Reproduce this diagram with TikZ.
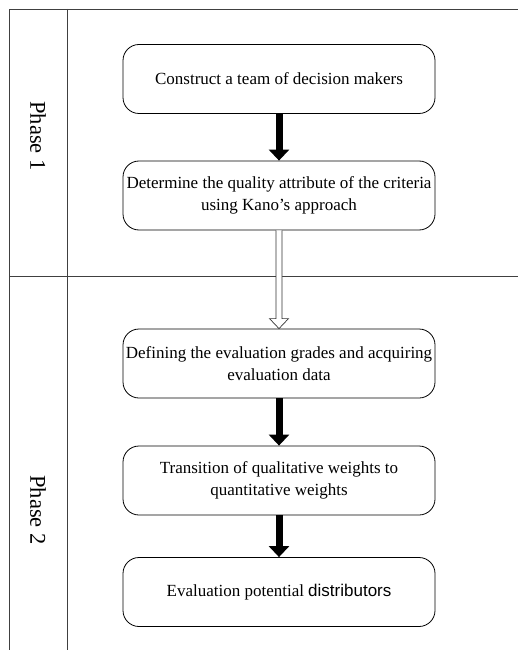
\documentclass[tikz,border=0pt]{standalone}
\usepackage{fontspec}
\setmainfont{Liberation Serif}
\newfontfamily\arialfont{Liberation Sans}
\usetikzlibrary{arrows.meta}
\begin{document}
\begin{tikzpicture}[x=1pt,y=-1pt,
  stepbox/.style={draw, rounded corners=16pt, minimum width=312pt, minimum height=69pt, align=center, font=\fontsize{17}{22}\selectfont, inner sep=1pt, line width=0.8pt},
  frame/.style={draw=black!75, line width=0.9pt},
  solidarrow/.style={line width=7pt, -{Triangle[width=20pt,length=11pt]}, shorten >=0pt},
  phase/.style={rotate=-90, font=\fontsize{22.5}{26}\selectfont}
]
\useasboundingbox (0,0) rectangle (518,652);
% frame
\draw[frame] (518,9) -- (9,9) -- (9,650);
\draw[frame] (67,9) -- (67,650);
\draw[frame] (9,276) -- (518,276);
\node[phase] (p1) at (38,136) {Phase 1};
\node[phase] (p2) at (38,510) {Phase 2};
% boxes
\node[stepbox] (b1) at (279,79) {Construct a team of decision makers};
\node[stepbox] (b2) at (279,195.5) {Determine the quality attribute of the criteria\\using Kano's approach};
\node[stepbox] (b3) at (279,363.5) {Defining the evaluation grades and acquiring\\evaluation data};
\node[stepbox] (b4) at (279,480.5) {Transition of qualitative weights to\\quantitative weights};
\node[stepbox] (b5) at (279,592) {Evaluation potential {\arialfont distributors}};
% arrows
\draw[solidarrow] (b1.south) -- (b2.north);
\draw[solidarrow] (b3.south) -- (b4.north);
\draw[solidarrow] (b4.south) -- (b5.north);
% hollow arrow
\draw[line width=0.7pt, fill=white, draw=black!80]
  ([xshift=-3pt]b2.south) -- ([xshift=-3pt,yshift=10pt]b3.north) -- ([xshift=-9.5pt,yshift=10pt]b3.north) -- (b3.north) -- ([xshift=9.5pt,yshift=10pt]b3.north) -- ([xshift=3pt,yshift=10pt]b3.north) -- ([xshift=3pt]b2.south);
\end{tikzpicture}
\end{document}
